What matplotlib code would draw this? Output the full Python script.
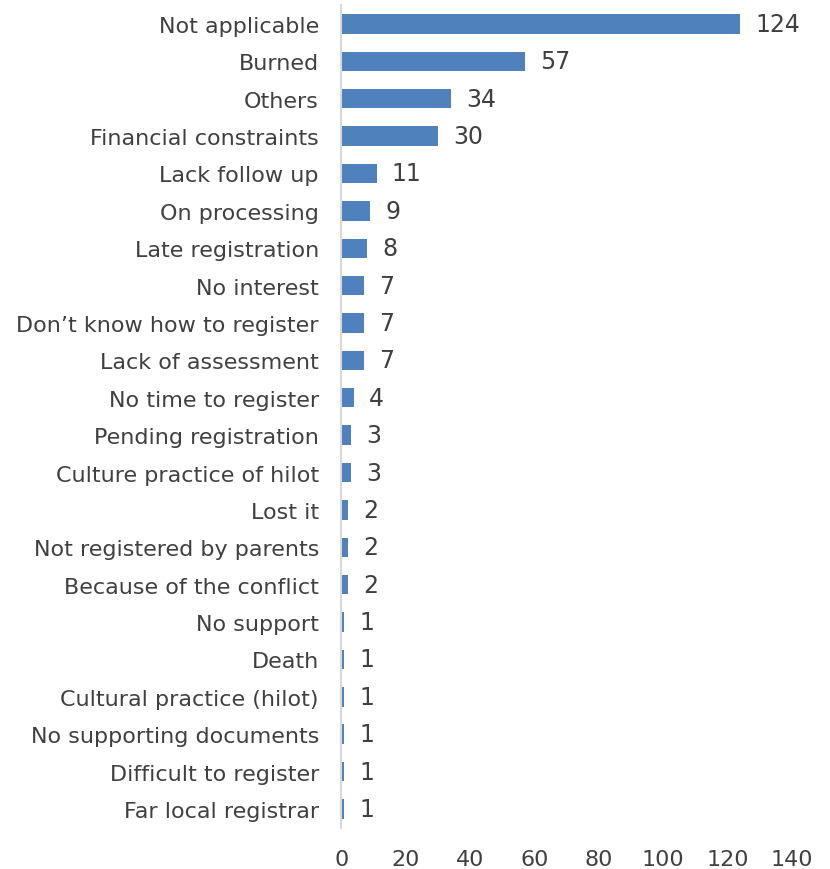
import matplotlib
matplotlib.use("Agg")
import numpy as np
from matplotlib import pyplot as plt

reasons = [
    "Not applicable", "Burned", "Others", "Financial constraints",
    "Lack follow up", "On processing", "Late registration", "No interest",
    "Don\u2019t know how to register", "Lack of assessment",
    "No time to register", "Pending registration",
    "Culture practice of hilot", "Lost it", "Not registered by parents",
    "Because of the conflict", "No support", "Death",
    "Cultural practice (hilot)", "No supporting documents",
    "Difficult to register", "Far local registrar",
]
counts = [124, 57, 34, 30, 11, 9, 8, 7, 7, 7, 4, 3, 3, 2, 2, 2, 1, 1, 1, 1, 1, 1]
x_ticks = [0, 20, 40, 60, 80, 100, 120, 140]

bar_color = "#4F81BD"
text_color = "#404040"

plt.rcParams['font.family'] = ['DejaVu Sans']

fig = plt.figure(figsize=(8.3, 8.7), dpi=100)
ax = fig.add_axes([0.411, 0.0475, 0.543, 0.9453])

y = np.arange(len(reasons))
ax.barh(y, counts, height=0.52, color=bar_color)

# value labels just past the end of each bar
for yi, c in zip(y, counts):
    ax.annotate(str(c), (c, yi), xytext=(11, 0), textcoords="offset points",
                va="center", ha="left", fontsize=17, color=text_color)

ax.set_yticks(y)
ax.set_yticklabels(reasons)
ax.set_ylim(len(reasons) - 0.5, -0.5)
ax.set_xlim(0, 140)
ax.set_xticks(x_ticks)

ax.tick_params(axis="y", length=0, pad=16, labelsize=16, labelcolor=text_color)
ax.tick_params(axis="x", length=0, pad=15, labelsize=16, labelcolor=text_color)

for side in ["top", "right", "bottom"]:
    ax.spines[side].set_visible(False)
ax.spines["left"].set_color("#D9D9D9")
ax.spines["left"].set_linewidth(1.5)

fig.savefig("out.png", dpi=100)
